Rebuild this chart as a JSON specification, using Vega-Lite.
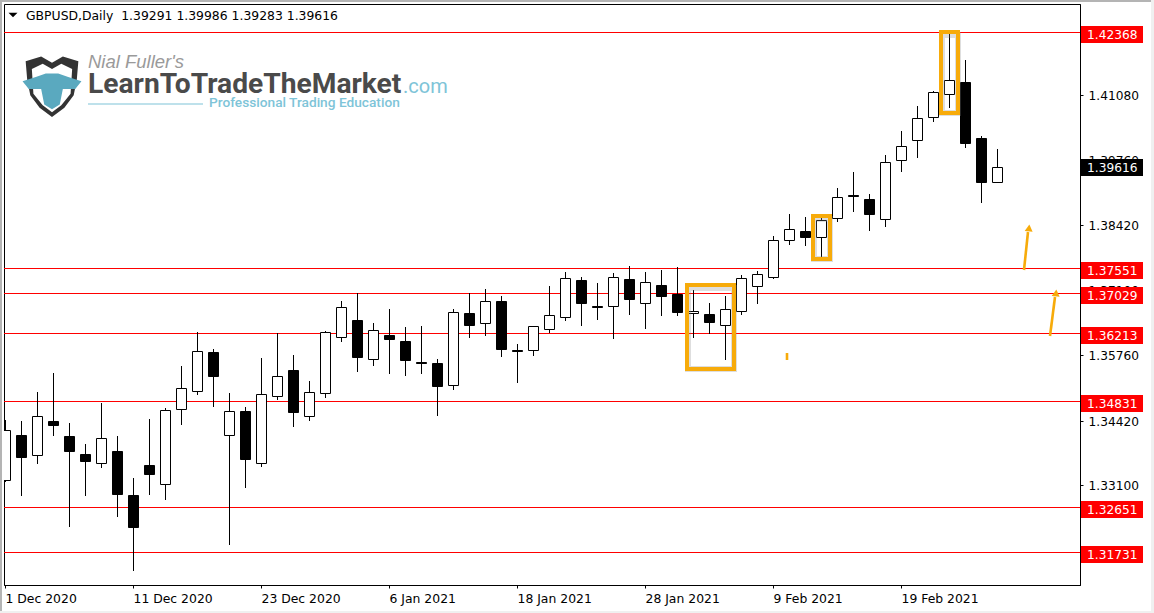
{
"$schema":"https://vega.github.io/schema/vega-lite/v6.json",
"autosize":{"type":"none"},
"padding":{"left":4,"top":4,"right":74,"bottom":28},
"width":1076,"height":581,
"background":"#ffffff",
"resolve":{"axis":{"x":"independent","y":"independent"}},
"config":{"view":{"stroke":"#000000","strokeWidth":1},"axis":{"labelFont":"DejaVu Sans","labelFontSize":12.2,"labelColor":"#000000","tickColor":"#000000","domainColor":"#000000","grid":false,"title":null}},
"datasets":{
"candles":[
{"bar":0,"date":"2020-12-01","open":1.33187,"high":1.34441,"low":1.33167,"close":1.34231},
{"bar":1,"date":"2020-12-02","open":1.34128,"high":1.34421,"low":1.32872,"close":1.33650},
{"bar":2,"date":"2020-12-03","open":1.33699,"high":1.35014,"low":1.33527,"close":1.34517},
{"bar":3,"date":"2020-12-04","open":1.34421,"high":1.35403,"low":1.34100,"close":1.34304},
{"bar":4,"date":"2020-12-07","open":1.34114,"high":1.34380,"low":1.32238,"close":1.33772},
{"bar":5,"date":"2020-12-08","open":1.33746,"high":1.33950,"low":1.32887,"close":1.33568},
{"bar":6,"date":"2020-12-09","open":1.33535,"high":1.34789,"low":1.33445,"close":1.34067},
{"bar":7,"date":"2020-12-10","open":1.33807,"high":1.34114,"low":1.32443,"close":1.32893},
{"bar":8,"date":"2020-12-11","open":1.32907,"high":1.33255,"low":1.31338,"close":1.32218},
{"bar":9,"date":"2020-12-14","open":1.33521,"high":1.34462,"low":1.32893,"close":1.33302},
{"bar":10,"date":"2020-12-15","open":1.33106,"high":1.34687,"low":1.32791,"close":1.34640},
{"bar":11,"date":"2020-12-16","open":1.34640,"high":1.35546,"low":1.34325,"close":1.35090},
{"bar":12,"date":"2020-12-17","open":1.35008,"high":1.36241,"low":1.34938,"close":1.35847},
{"bar":13,"date":"2020-12-18","open":1.35832,"high":1.35894,"low":1.34693,"close":1.35307},
{"bar":14,"date":"2020-12-21","open":1.34114,"high":1.34994,"low":1.31870,"close":1.34619},
{"bar":15,"date":"2020-12-22","open":1.34619,"high":1.34707,"low":1.33036,"close":1.33609},
{"bar":16,"date":"2020-12-23","open":1.33535,"high":1.35710,"low":1.33466,"close":1.34967},
{"bar":17,"date":"2020-12-24","open":1.34906,"high":1.36215,"low":1.34850,"close":1.35335},
{"bar":18,"date":"2020-12-28","open":1.35464,"high":1.35771,"low":1.34284,"close":1.34570},
{"bar":19,"date":"2020-12-29","open":1.34497,"high":1.35239,"low":1.34407,"close":1.35008},
{"bar":20,"date":"2020-12-30","open":1.34967,"high":1.36262,"low":1.34877,"close":1.36235},
{"bar":21,"date":"2020-12-31","open":1.36113,"high":1.36876,"low":1.36022,"close":1.36747},
{"bar":22,"date":"2021-01-04","open":1.36487,"high":1.37033,"low":1.35409,"close":1.35695},
{"bar":23,"date":"2021-01-05","open":1.35663,"high":1.36426,"low":1.35532,"close":1.36276},
{"bar":24,"date":"2021-01-06","open":1.36180,"high":1.36712,"low":1.35368,"close":1.36064},
{"bar":25,"date":"2021-01-07","open":1.36057,"high":1.36344,"low":1.35327,"close":1.35634},
{"bar":26,"date":"2021-01-08","open":1.35628,"high":1.36364,"low":1.35368,"close":1.35587},
{"bar":27,"date":"2021-01-11","open":1.35607,"high":1.35689,"low":1.34509,"close":1.35102},
{"bar":28,"date":"2021-01-12","open":1.35131,"high":1.36706,"low":1.35041,"close":1.36644},
{"bar":29,"date":"2021-01-13","open":1.36630,"high":1.37033,"low":1.36104,"close":1.36350},
{"bar":30,"date":"2021-01-14","open":1.36399,"high":1.37121,"low":1.36145,"close":1.36869},
{"bar":31,"date":"2021-01-15","open":1.36876,"high":1.36978,"low":1.35716,"close":1.35859},
{"bar":32,"date":"2021-01-18","open":1.35853,"high":1.35996,"low":1.35184,"close":1.35838},
{"bar":33,"date":"2021-01-19","open":1.35847,"high":1.36364,"low":1.35736,"close":1.36358},
{"bar":34,"date":"2021-01-20","open":1.36276,"high":1.37182,"low":1.36221,"close":1.36583},
{"bar":35,"date":"2021-01-21","open":1.36522,"high":1.37469,"low":1.36452,"close":1.37340},
{"bar":36,"date":"2021-01-22","open":1.37305,"high":1.37367,"low":1.36350,"close":1.36800},
{"bar":37,"date":"2021-01-25","open":1.36747,"high":1.37244,"low":1.36473,"close":1.36740},
{"bar":38,"date":"2021-01-26","open":1.36747,"high":1.37448,"low":1.36084,"close":1.37360},
{"bar":39,"date":"2021-01-27","open":1.37326,"high":1.37592,"low":1.36575,"close":1.36882},
{"bar":40,"date":"2021-01-28","open":1.36808,"high":1.37469,"low":1.36289,"close":1.37258},
{"bar":41,"date":"2021-01-29","open":1.37203,"high":1.37510,"low":1.36554,"close":1.36943},
{"bar":42,"date":"2021-02-01","open":1.37019,"high":1.37571,"low":1.36554,"close":1.36616},
{"bar":43,"date":"2021-02-02","open":1.36604,"high":1.37101,"low":1.36104,"close":1.36665},
{"bar":44,"date":"2021-02-03","open":1.36610,"high":1.36835,"low":1.36186,"close":1.36411},
{"bar":45,"date":"2021-02-04","open":1.36358,"high":1.36978,"low":1.35654,"close":1.36706},
{"bar":46,"date":"2021-02-05","open":1.36644,"high":1.37401,"low":1.36575,"close":1.37340},
{"bar":47,"date":"2021-02-08","open":1.37156,"high":1.37483,"low":1.36800,"close":1.37422},
{"bar":48,"date":"2021-02-09","open":1.37340,"high":1.38205,"low":1.37311,"close":1.38117},
{"bar":49,"date":"2021-02-10","open":1.38097,"high":1.38655,"low":1.38007,"close":1.38342},
{"bar":50,"date":"2021-02-11","open":1.38308,"high":1.38594,"low":1.37986,"close":1.38150},
{"bar":51,"date":"2021-02-12","open":1.38158,"high":1.38600,"low":1.37729,"close":1.38526},
{"bar":52,"date":"2021-02-15","open":1.38547,"high":1.39187,"low":1.38477,"close":1.38997},
{"bar":53,"date":"2021-02-16","open":1.39044,"high":1.39514,"low":1.38682,"close":1.38989},
{"bar":54,"date":"2021-02-17","open":1.38962,"high":1.39064,"low":1.38293,"close":1.38620},
{"bar":55,"date":"2021-02-18","open":1.38526,"high":1.39862,"low":1.38375,"close":1.39713},
{"bar":56,"date":"2021-02-19","open":1.39733,"high":1.40353,"low":1.39500,"close":1.40040},
{"bar":57,"date":"2021-02-22","open":1.40142,"high":1.40864,"low":1.39786,"close":1.40613},
{"bar":58,"date":"2021-02-23","open":1.40613,"high":1.41171,"low":1.40523,"close":1.41145},
{"bar":59,"date":"2021-02-24","open":1.41083,"high":1.42368,"low":1.40809,"close":1.41390},
{"bar":60,"date":"2021-02-25","open":1.41355,"high":1.41805,"low":1.39991,"close":1.40073},
{"bar":61,"date":"2021-02-26","open":1.40210,"high":1.40251,"low":1.38866,"close":1.39275},
{"bar":62,"date":"2021-03-01","open":1.39291,"high":1.39986,"low":1.39283,"close":1.39616}
],
"levels":[
{"price":1.42368,"label":"1.42368"},
{"price":1.37551,"label":"1.37551"},
{"price":1.37029,"label":"1.37029"},
{"price":1.36213,"label":"1.36213"},
{"price":1.34831,"label":"1.34831"},
{"price":1.32651,"label":"1.32651"},
{"price":1.31731,"label":"1.31731"}
],
"edges":[
{"a":-0.4,"b":72,"top":1.4312,"bottom":1.42992,"c":"#b4b4b4"},
{"a":-0.4,"b":-0.19,"top":1.4312,"bottom":1.3030,"c":"#b4b4b4"},
{"a":71.6,"b":72,"top":1.4312,"bottom":1.3030,"c":"#f0f0f0"},
{"a":-0.4,"b":72,"top":1.30534,"bottom":1.3030,"c":"#f0f0f0"}
],
"boxes":[
{"a":42.6,"b":45.56,"top":1.37193,"bottom":1.35474},
{"a":50.47,"b":51.59,"top":1.38614,"bottom":1.37720},
{"a":58.49,"b":59.59,"top":1.42378,"bottom":1.40721}
],
"arrows":[
{"a":63.68,"b":63.94,"from":1.37495,"to":1.38287},
{"a":65.34,"b":65.63,"from":1.36160,"to":1.36957},
{"a":48.9,"b":48.9,"from":1.35669,"to":1.35812}
],
"heads":[{"a":63.97,"p":1.38369},{"a":65.66,"p":1.37029}]
},
"layer":[
{"data":{"name":"edges"},"mark":{"type":"rect","strokeWidth":0,"clip":false},
"encoding":{"x":{"field":"a","type":"quantitative","scale":{"domain":[-0.0625,67.1875],"padding":0,"round":true},"axis":{"orient":"bottom","values":[0,8,16,24,32,40,48,56],"tickSize":3,"labelAlign":"left","labelPadding":4,"labelFlush":false,"labelOverlap":false,"domain":true,"labelFontSize":12.4,"labelExpr":"{'0':'1 Dec 2020','8':'11 Dec 2020','16':'23 Dec 2020','24':'6 Jan 2021','32':'18 Jan 2021','40':'28 Jan 2021','48':'9 Feb 2021','56':'19 Feb 2021'}[datum.value]"}},
"x2":{"field":"b"},
"y":{"field":"top","type":"quantitative","scale":{"domain":[1.3106006,1.4294486],"round":true},"axis":{"orient":"right","values":[1.4108,1.3976,1.3842,1.371,1.3576,1.3442,1.331,1.3178],"format":".5f","tickSize":3,"labelPadding":5,"labelOverlap":false,"labelFlush":false,"domain":true}},
"y2":{"field":"bottom"},
"fill":{"field":"c","type":"nominal","scale":null}}},
{"data":{"name":"levels"},"mark":{"type":"rule","color":"#ff0000","strokeWidth":1,"yOffset":0.5},
"encoding":{"y":{"field":"price","type":"quantitative","scale":{"domain":[1.3106006,1.4294486],"round":true},"axis":null}}},
{"data":{"name":"candles"},"mark":{"type":"rule","color":"#000000","strokeWidth":1,"clip":true,"xOffset":0.5},
"encoding":{"x":{"field":"bar","type":"quantitative","scale":{"domain":[-0.0625,67.1875],"padding":0,"round":true},"axis":null},
"y":{"field":"low","type":"quantitative","scale":{"domain":[1.3106006,1.4294486],"round":true},"axis":null},"y2":{"field":"high"}}},
{"data":{"name":"candles"},"transform":[{"filter":"datum.close>=datum.open"}],"mark":{"type":"bar","size":10,"fill":"#ffffff","stroke":"#000000","strokeWidth":1,"clip":true,"xOffset":0.5,"yOffset":-0.5,"y2Offset":0.5},
"encoding":{"x":{"field":"bar","type":"quantitative","scale":{"domain":[-0.0625,67.1875],"padding":0,"round":true},"axis":null},
"y":{"field":"open","type":"quantitative","scale":{"domain":[1.3106006,1.4294486],"round":true},"axis":null},"y2":{"field":"close"}}},
{"data":{"name":"candles"},"transform":[{"filter":"datum.close<datum.open"}],"mark":{"type":"bar","size":10,"fill":"#000000","stroke":"#000000","strokeWidth":1,"clip":true,"xOffset":0.5,"yOffset":-0.5,"y2Offset":0.5},
"encoding":{"x":{"field":"bar","type":"quantitative","scale":{"domain":[-0.0625,67.1875],"padding":0,"round":true},"axis":null},
"y":{"field":"close","type":"quantitative","scale":{"domain":[1.3106006,1.4294486],"round":true},"axis":null},"y2":{"field":"open"}}},
{"data":{"name":"boxes"},"mark":{"type":"rect","fill":"transparent","stroke":"#888888","strokeOpacity":0.28,"strokeWidth":6,"xOffset":1,"yOffset":3},
"encoding":{"x":{"field":"a","type":"quantitative","scale":{"domain":[-0.0625,67.1875],"padding":0,"round":true},"axis":null},"x2":{"field":"b"},
"y":{"field":"top","type":"quantitative","scale":{"domain":[1.3106006,1.4294486],"round":true},"axis":null},"y2":{"field":"bottom"}}},
{"data":{"name":"boxes"},"mark":{"type":"rect","fill":"transparent","stroke":"#f7ab0a","strokeWidth":4},
"encoding":{"x":{"field":"a","type":"quantitative","scale":{"domain":[-0.0625,67.1875],"padding":0,"round":true},"axis":null},"x2":{"field":"b"},
"y":{"field":"top","type":"quantitative","scale":{"domain":[1.3106006,1.4294486],"round":true},"axis":null},"y2":{"field":"bottom"}}},
{"data":{"name":"arrows"},"mark":{"type":"rule","color":"#f7ab0a","strokeWidth":2.6},
"encoding":{"x":{"field":"a","type":"quantitative","scale":{"domain":[-0.0625,67.1875],"padding":0,"round":true},"axis":null},"x2":{"field":"b"},
"y":{"field":"from","type":"quantitative","scale":{"domain":[1.3106006,1.4294486],"round":true},"axis":null},"y2":{"field":"to"}}},
{"data":{"name":"heads"},"mark":{"type":"point","shape":"triangle-up","filled":true,"opacity":1,"color":"#f7ab0a","size":64,"angle":6},
"encoding":{"x":{"field":"a","type":"quantitative","scale":{"domain":[-0.0625,67.1875],"padding":0,"round":true},"axis":null},
"y":{"field":"p","type":"quantitative","scale":{"domain":[1.3106006,1.4294486],"round":true},"axis":null}}},
{"data":{"name":"levels"},"mark":{"type":"rule","color":"#ff0000","strokeWidth":17,"yOffset":2.5},
"encoding":{"x":{"datum":67.25,"type":"quantitative","scale":{"domain":[-0.0625,67.1875],"padding":0,"round":true},"axis":null},"x2":{"datum":71.125},
"y":{"field":"price","type":"quantitative","scale":{"domain":[1.3106006,1.4294486],"round":true},"axis":null}}},
{"data":{"values":[{"price":1.39616}]},"mark":{"type":"rule","color":"#000000","strokeWidth":17,"yOffset":0.5},
"encoding":{"x":{"datum":67.25,"type":"quantitative","scale":{"domain":[-0.0625,67.1875],"padding":0,"round":true},"axis":null},"x2":{"datum":71.125},
"y":{"field":"price","type":"quantitative","scale":{"domain":[1.3106006,1.4294486],"round":true},"axis":null}}},
{"data":{"name":"levels"},"mark":{"type":"text","color":"#ffffff","font":"DejaVu Sans","fontSize":12.2,"align":"left","baseline":"middle","dy":3},
"encoding":{"x":{"datum":67.625,"type":"quantitative","scale":{"domain":[-0.0625,67.1875],"padding":0,"round":true},"axis":null},
"y":{"field":"price","type":"quantitative","scale":{"domain":[1.3106006,1.4294486],"round":true},"axis":null},"text":{"field":"label"}}},
{"data":{"values":[{"price":1.39616,"label":"1.39616"}]},"mark":{"type":"text","color":"#ffffff","font":"DejaVu Sans","fontSize":12.2,"align":"left","baseline":"middle","dy":1},
"encoding":{"x":{"datum":67.625,"type":"quantitative","scale":{"domain":[-0.0625,67.1875],"padding":0,"round":true},"axis":null},
"y":{"field":"price","type":"quantitative","scale":{"domain":[1.3106006,1.4294486],"round":true},"axis":null},"text":{"field":"label"}}},
{"data":{"values":[{"a":0.53,"p":1.42726}]},"mark":{"type":"point","shape":"M-1,-.5 L1,-.5 L0,.5 Z","filled":true,"opacity":1,"color":"#000000","size":81},
"encoding":{"x":{"field":"a","type":"quantitative","scale":{"domain":[-0.0625,67.1875],"padding":0,"round":true},"axis":null},
"y":{"field":"p","type":"quantitative","scale":{"domain":[1.3106006,1.4294486],"round":true},"axis":null}}},
{"data":{"values":[{"a":1.31,"p":1.42691,"t":"GBPUSD,Daily\u00a0 1.39291 1.39986 1.39283 1.39616"}]},"mark":{"type":"text","color":"#000000","font":"DejaVu Sans","fontSize":12.4,"align":"left","baseline":"middle"},
"encoding":{"x":{"field":"a","type":"quantitative","scale":{"domain":[-0.0625,67.1875],"padding":0,"round":true},"axis":null},
"y":{"field":"p","type":"quantitative","scale":{"domain":[1.3106006,1.4294486],"round":true},"axis":null},"text":{"field":"t"}}},
{"data":{"values":[
{"a":2.94,"p":1.41274,"c":"#333333","s":"M-.85,-.8 L-.35,-.95 L0,-.75 L.35,-.95 L.85,-.8 L.8,-.2 L.7,.3 L.4,.7 L0,1 L-.4,.7 L-.7,.3 L-.8,-.2 Z"},
{"a":2.94,"p":1.41274,"c":"#ffffff","s":"M-.65,-.55 L-.3,-.72 L0,-.55 L.3,-.72 L.65,-.55 L.6,.25 L.3,.62 L0,.85 L-.3,.62 L-.6,.25 Z"},
{"a":2.94,"p":1.41274,"c":"#5aa9bf","s":"M-.95,-.15 L-.5,-.3 L-.2,-.4 L.2,-.4 L.5,-.3 L.95,-.15 L.75,.1 L.35,.1 L.25,.6 L0,.75 L-.25,.6 L-.35,.1 L-.75,.1 Z"}
]},"mark":{"type":"point","filled":true,"opacity":1,"size":3844},
"encoding":{"x":{"field":"a","type":"quantitative","scale":{"domain":[-0.0625,67.1875],"padding":0,"round":true},"axis":null},
"y":{"field":"p","type":"quantitative","scale":{"domain":[1.3106006,1.4294486],"round":true},"axis":null},
"shape":{"field":"s","type":"nominal","scale":null},"color":{"field":"c","type":"nominal","scale":null}}},
{"data":{"values":[{"a":5.2,"p":1.41640,"t":"Nial Fuller's"}]},"mark":{"type":"text","color":"#9a9a9a","font":"Liberation Sans","fontStyle":"italic","fontSize":18.5,"align":"left","baseline":"alphabetic"},
"encoding":{"x":{"field":"a","type":"quantitative","scale":{"domain":[-0.0625,67.1875],"padding":0,"round":true},"axis":null},
"y":{"field":"p","type":"quantitative","scale":{"domain":[1.3106006,1.4294486],"round":true},"axis":null},"text":{"field":"t"}}},
{"data":{"values":[{"a":5.2,"p":1.41131,"t":"LearnToTradeTheMarket"}]},"mark":{"type":"text","color":"#4a4a4a","font":"Roboto","fontWeight":"bold","fontSize":28.2,"align":"left","baseline":"alphabetic"},
"encoding":{"x":{"field":"a","type":"quantitative","scale":{"domain":[-0.0625,67.1875],"padding":0,"round":true},"axis":null},
"y":{"field":"p","type":"quantitative","scale":{"domain":[1.3106006,1.4294486],"round":true},"axis":null},"text":{"field":"t"}}},
{"data":{"values":[{"a":24.85,"p":1.41131,"t":".com"}]},"mark":{"type":"text","color":"#7ec4d8","font":"Roboto","fontSize":20,"align":"left","baseline":"alphabetic"},
"encoding":{"x":{"field":"a","type":"quantitative","scale":{"domain":[-0.0625,67.1875],"padding":0,"round":true},"axis":null},
"y":{"field":"p","type":"quantitative","scale":{"domain":[1.3106006,1.4294486],"round":true},"axis":null},"text":{"field":"t"}}},
{"data":{"values":[{"a":12.72,"p":1.40836,"t":"Professional Trading Education"}]},"mark":{"type":"text","color":"#7ec4d8","font":"Roboto","fontWeight":500,"fontSize":13.7,"align":"left","baseline":"alphabetic"},
"encoding":{"x":{"field":"a","type":"quantitative","scale":{"domain":[-0.0625,67.1875],"padding":0,"round":true},"axis":null},
"y":{"field":"p","type":"quantitative","scale":{"domain":[1.3106006,1.4294486],"round":true},"axis":null},"text":{"field":"t"}}},
{"data":{"values":[{"a":5.2,"b":12.35,"p":1.40905}]},"mark":{"type":"rule","color":"#7ec4d8","strokeWidth":1.2},
"encoding":{"x":{"field":"a","type":"quantitative","scale":{"domain":[-0.0625,67.1875],"padding":0,"round":true},"axis":null},"x2":{"field":"b"},
"y":{"field":"p","type":"quantitative","scale":{"domain":[1.3106006,1.4294486],"round":true},"axis":null}}}
]
}
